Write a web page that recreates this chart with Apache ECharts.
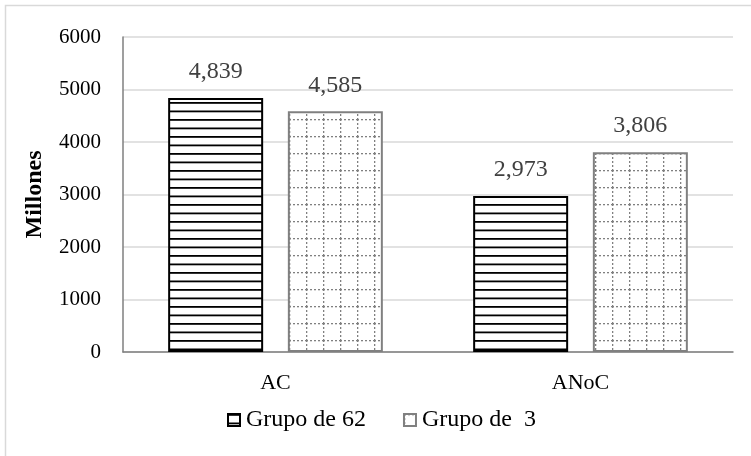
<!DOCTYPE html>
<html>
<head>
<meta charset="utf-8">
<script src="https://cdn.jsdelivr.net/npm/echarts@6/dist/echarts.min.js"></script>
<style>
  html, body { margin: 0; padding: 0; background: #fff; }
  #chart { width: 751px; height: 456px; }
</style>
</head>
<body>
<div id="chart"></div>
<script>
  var categories = ['AC', 'ANoC'];
  var grupo62 = [4839, 2973];
  var grupo3 = [4585, 3806];
  var seriesNames = ['Grupo de 62', 'Grupo de  3'];

  // patrón de rayas horizontales
  function stripePattern() {
    var c = document.createElement('canvas');
    c.width = 4; c.height = 17;
    var ctx = c.getContext('2d');
    ctx.fillStyle = '#fff';
    ctx.fillRect(0, 0, 4, 17);
    ctx.fillStyle = '#000';
    ctx.fillRect(0, 0, 4, 1.8);
    ctx.fillRect(0, 8.5, 4, 1.8);
    return c;
  }
  // patrón de cuadrícula punteada
  function gridPattern() {
    var c = document.createElement('canvas');
    c.width = 17; c.height = 17;
    var ctx = c.getContext('2d');
    ctx.fillStyle = '#fff';
    ctx.fillRect(0, 0, 17, 17);
    ctx.fillStyle = '#808080';
    for (var i = 0; i < 17; i += 4) {
      ctx.fillRect(0, i, 1.3, 2);
      ctx.fillRect(i, 0, 2, 1.3);
    }
    return c;
  }

  var font = '"Liberation Serif", "DejaVu Serif", serif';
  var valueLabel = {
    show: true,
    position: 'top',
    distance: 14,
    fontFamily: font,
    fontSize: 24,
    color: '#404040',
    formatter: function (p) { return p.value.toLocaleString('en-US'); }
  };

  var chart = echarts.init(document.getElementById('chart'));
  chart.setOption({
    backgroundColor: '#fff',
    animation: false,
    textStyle: { fontFamily: font },
    graphic: [{
      type: 'rect',
      shape: { x: 5.5, y: 5.5, width: 800, height: 500 },
      style: { fill: 'none', stroke: '#d9d9d9', lineWidth: 1.5 },
      silent: true
    }],
    grid: { left: 123, right: 18, top: 37, bottom: 104 },
    legend: {
      data: seriesNames,
      left: 222,
      top: 403,
      icon: 'rect',
      itemWidth: 12,
      itemHeight: 12,
      itemGap: 37,
      textStyle: { fontFamily: font, fontSize: 24, color: '#000', padding: [0, 0, 0, 1] }
    },
    xAxis: {
      type: 'category',
      data: categories,
      axisLine: { lineStyle: { color: '#7f7f7f', width: 1.5 } },
      axisTick: { show: false },
      axisLabel: { fontFamily: font, fontSize: 22, color: '#000', margin: 20 }
    },
    yAxis: {
      type: 'value',
      min: 0,
      max: 6000,
      interval: 1000,
      name: 'Millones',
      nameLocation: 'middle',
      nameGap: 76,
      nameMoveOverlap: false,
      nameTextStyle: { fontFamily: font, fontSize: 24, fontWeight: 'bold', color: '#000' },
      axisLine: { show: true, lineStyle: { color: '#7f7f7f', width: 1.5 } },
      axisTick: { show: false },
      splitLine: { lineStyle: { color: '#d9d9d9', width: 1.5 } },
      axisLabel: {
        fontFamily: font, fontSize: 21, color: '#000', margin: 22,
        formatter: function (v) { return String(v); }
      }
    },
    series: [
      {
        name: seriesNames[0],
        type: 'bar',
        data: grupo62,
        barWidth: 95,
        barGap: '26%',
        itemStyle: {
          color: { image: stripePattern(), repeat: 'repeat' },
          borderColor: '#000',
          borderWidth: 2
        },
        label: valueLabel
      },
      {
        name: seriesNames[1],
        type: 'bar',
        data: grupo3,
        barWidth: 95,
        itemStyle: {
          color: { image: gridPattern(), repeat: 'repeat' },
          borderColor: '#808080',
          borderWidth: 2
        },
        label: valueLabel
      }
    ]
  });
</script>
</body>
</html>
